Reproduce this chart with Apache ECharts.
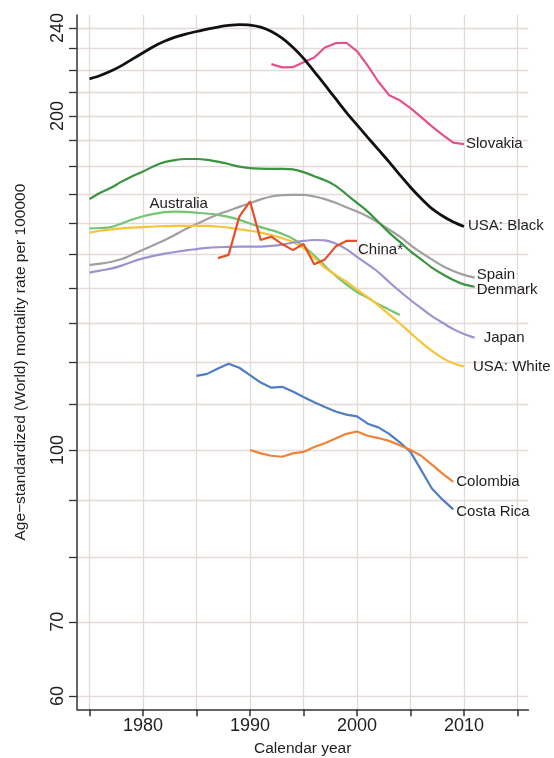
<!DOCTYPE html>
<html>
<head>
<meta charset="utf-8">
<script src="https://cdn.jsdelivr.net/npm/echarts@6/dist/echarts.min.js"></script>
<style>
  html, body { margin: 0; padding: 0; background: #ffffff; }
  #chart { width: 554px; height: 758px; }
</style>
</head>
<body>
<div id="chart"></div>
<script>
// Calendar years for each country's series
const years1975to2010 = [1975,1976,1977,1978,1979,1980,1981,1982,1983,1984,1985,1986,1987,1988,1989,1990,1991,1992,1993,1994,1995,1996,1997,1998,1999,2000,2001,2002,2003,2004,2005,2006,2007,2008,2009,2010];
const years1975to2011 = [1975,1976,1977,1978,1979,1980,1981,1982,1983,1984,1985,1986,1987,1988,1989,1990,1991,1992,1993,1994,1995,1996,1997,1998,1999,2000,2001,2002,2003,2004,2005,2006,2007,2008,2009,2010,2011];
const years1975to2004 = [1975,1976,1977,1978,1979,1980,1981,1982,1983,1984,1985,1986,1987,1988,1989,1990,1991,1992,1993,1994,1995,1996,1997,1998,1999,2000,2001,2002,2003,2004];
const years1992to2010 = [1992,1993,1994,1995,1996,1997,1998,1999,2000,2001,2002,2003,2004,2005,2006,2007,2008,2009,2010];
const years1987to2000 = [1987,1988,1989,1990,1991,1992,1993,1994,1995,1996,1997,1998,1999,2000];
const years1985to2009 = [1985,1986,1987,1988,1989,1990,1991,1992,1993,1994,1995,1996,1997,1998,1999,2000,2001,2002,2003,2004,2005,2006,2007,2008,2009];
const years1990to2009 = [1990,1991,1992,1993,1994,1995,1996,1997,1998,1999,2000,2001,2002,2003,2004,2005,2006,2007,2008,2009];

// Age-standardized (World) mortality rate per 100000
const usaBlack = [216,217.5,219.5,222,225,228,231,233.5,235.5,237,238.3,239.5,240.5,241.3,241.7,241.5,240.5,238.3,235,230.6,225.4,219.3,213.3,207.3,201.5,196.3,191.3,186.5,181.8,177,172.5,168.5,165,162.5,160.5,159];
const usaWhite = [157,157.6,158,158.4,158.6,158.8,159,159.1,159.2,159.2,159.2,159.2,159,158.6,158.1,157.6,157,156.2,155.2,154,152,149,146,143.8,141.8,139.5,137.3,135,132.5,130,127.5,125,122.8,121,119.7,118.9];
const australia = [158.4,158.5,158.8,160,161.3,162.4,163.2,163.8,164,163.9,163.6,163.3,162.9,162.2,161.2,160,158.8,157.8,156.6,155,152.6,149.8,146.5,143.6,141,138.8,137.1,135.3,133.8,132.3];
const denmark = [168.3,170.5,172.3,174.5,176.5,178.2,180.2,181.7,182.5,182.9,182.9,182.6,181.9,181,180,179.5,179.3,179.2,179.2,179,178,176.5,175,173,170,167,164,160.5,157,154,151,148.5,146,144,142.3,141,140.3];
const spain = [146.8,147.2,147.7,148.6,150,151.5,153,154.5,156.3,158.2,159.8,161.5,163,164.3,165.6,166.9,168.2,169.2,169.7,169.8,169.8,169.2,168.3,167,165.5,164,162.3,160.2,158,155.7,153,150.6,148.5,146.5,145,143.8,143];
const japan = [144.5,145.1,145.7,146.6,147.8,148.8,149.6,150.3,150.8,151.3,151.7,152.1,152.3,152.4,152.5,152.5,152.5,152.7,153.1,153.8,154.3,154.6,154.5,153.5,151.7,149.3,147,144.6,141.7,139,136.5,134.2,132,130.2,128.5,127.2,126.2];
const slovakia = [222.7,221.2,221.3,223.6,225.8,230.5,232.6,232.8,228.8,222,214.7,208.8,206.6,203.3,199.5,195.7,192.3,189.2,188.6];
const china = [148.9,149.9,162.3,167.5,154.6,155.7,153.3,151.4,153.3,147,148.5,152.5,154.3,154.3];
const costaRica = [116.6,117.1,118.4,119.6,118.6,116.8,115,113.8,114,112.9,111.6,110.4,109.3,108.3,107.6,107.2,105.6,104.8,103.4,101.6,99.6,95.9,92.3,90.2,88.4];
const colombia = [100,99.3,98.8,98.6,99.3,99.6,100.6,101.4,102.4,103.4,103.9,103,102.5,101.9,101,100,98.8,97,95.2,93.6];

// Axis ticks and labels
const yTickValues = [60,70,80,90,100,110,120,130,140,150,160,170,180,190,200,210,220,230,240];
const yLabelValues = [60,70,100,200,240];
const xTickValues = [1975,1980,1985,1990,1995,2000,2005,2010,2015];
const xLabelValues = [1980,1990,2000,2010];

const FONT = '"Liberation Sans", Arial, Helvetica, sans-serif';
const TEXT = '#1e1e1e';

function pairs(xs, ys) {
  return ys.map((v, i) => [xs[i], v]);
}

// Line styling and end-label placement for each series
const seriesDefs = [
  { name: 'Spain',      years: years1975to2011, values: spain,     color: '#a0a0a0', width: 2.2, smooth: 0.3, label: { distance: 2, offset: [0, -2.5] } },
  { name: 'Denmark',    years: years1975to2011, values: denmark,   color: '#3a9440', width: 2.2, smooth: 0.3, label: { distance: 2, offset: [0, 3.5] } },
  { name: 'Australia',  years: years1975to2004, values: australia, color: '#74c474', width: 2.2, smooth: 0.3, label: null },
  { name: 'USA: White', years: years1975to2010, values: usaWhite,  color: '#f6c436', width: 2.2, smooth: 0.3, label: { distance: 9, offset: [0, 0] } },
  { name: 'Japan',      years: years1975to2011, values: japan,     color: '#9d92d2', width: 2.2, smooth: 0.3, label: { distance: 9, offset: [0, 0.5] } },
  { name: 'China*',     years: years1987to2000, values: china,     color: '#e5502b', width: 2.2, smooth: false, label: { distance: 1, offset: [0, 8.5] } },
  { name: 'Costa Rica', years: years1985to2009, values: costaRica, color: '#4f7dc4', width: 2.2, smooth: false, label: { distance: 3, offset: [0, 2] } },
  { name: 'Colombia',   years: years1990to2009, values: colombia,  color: '#ef8237', width: 2.2, smooth: false, label: { distance: 3, offset: [0, 0] } },
  { name: 'Slovakia',   years: years1992to2010, values: slovakia,  color: '#e4508c', width: 2.2, smooth: false, label: { distance: 2, offset: [0, 0] } },
  { name: 'USA: Black', years: years1975to2010, values: usaBlack,  color: '#111111', width: 2.8, smooth: 0.3, label: { distance: 4, offset: [0, -0.5] } }
];

const series = seriesDefs.map(def => {
  const s = {
    type: 'line',
    name: def.name,
    data: pairs(def.years, def.values),
    showSymbol: false,
    smooth: def.smooth,
    lineStyle: { color: def.color, width: def.width },
    itemStyle: { color: def.color },
    emphasis: { disabled: true }
  };
  if (def.label) {
    s.endLabel = {
      show: true,
      formatter: def.name,
      color: TEXT,
      fontFamily: FONT,
      fontSize: 15,
      distance: def.label.distance,
      offset: def.label.offset
    };
  }
  if (def.name === 'Australia') {
    // Name tag sitting above the 1983 point
    s.markPoint = {
      symbol: 'circle',
      symbolSize: 1,
      itemStyle: { color: 'rgba(0,0,0,0)' },
      label: {
        show: true,
        position: 'inside',
        formatter: 'Australia',
        color: TEXT,
        fontFamily: FONT,
        fontSize: 15,
        offset: [3.6, -7.6]
      },
      data: [{ coord: [years1975to2004[8], australia[8]] }]
    };
  }
  return s;
});

const chart = echarts.init(document.getElementById('chart'), null, { renderer: 'canvas' });
chart.setOption({
  backgroundColor: '#ffffff',
  animation: false,
  grid: { left: 77, right: 25.6, top: 15, bottom: 48.7, containLabel: false, outerBoundsMode: 'none' },
  xAxis: {
    type: 'value',
    min: 1973.83,
    max: 2016.02,
    name: 'Calendar year',
    nameLocation: 'middle',
    nameGap: 31,
    nameTextStyle: { fontFamily: FONT, fontSize: 15.5, color: TEXT },
    axisLine: { show: true, lineStyle: { color: '#333333', width: 1.5 } },
    axisTick: { show: true, inside: false, length: 7, customValues: xTickValues, lineStyle: { color: '#333333', width: 1.5 } },
    axisLabel: { show: true, customValues: xLabelValues, margin: 8, fontFamily: FONT, fontSize: 18, color: TEXT, formatter: v => String(v) },
    splitLine: { show: true, lineStyle: { color: '#e4dad8', width: 1.3 } },
    minorTick: { show: false },
    minorSplitLine: { show: false }
  },
  yAxis: {
    type: 'log',
    logBase: 10,
    min: 58.38,
    max: 246.6,
    name: 'Age\u2212standardized (World) mortality rate per 100000',
    nameLocation: 'middle',
    nameGap: 48,
    nameRotate: 90,
    nameTextStyle: { fontFamily: FONT, fontSize: 15.5, color: TEXT },
    axisLine: { show: true, lineStyle: { color: '#333333', width: 1.5 } },
    axisTick: { show: true, inside: false, length: 8, customValues: yTickValues, lineStyle: { color: '#333333', width: 1.3 } },
    axisLabel: { show: true, customValues: yLabelValues, rotate: 90, margin: 10, fontFamily: FONT, fontSize: 18, color: TEXT, formatter: v => String(Math.round(v)) },
    splitLine: { show: true, lineStyle: { color: '#e4dad8', width: 1.3 } },
    minorTick: { show: false },
    minorSplitLine: { show: false }
  },
  series: series
});
</script>
</body>
</html>
